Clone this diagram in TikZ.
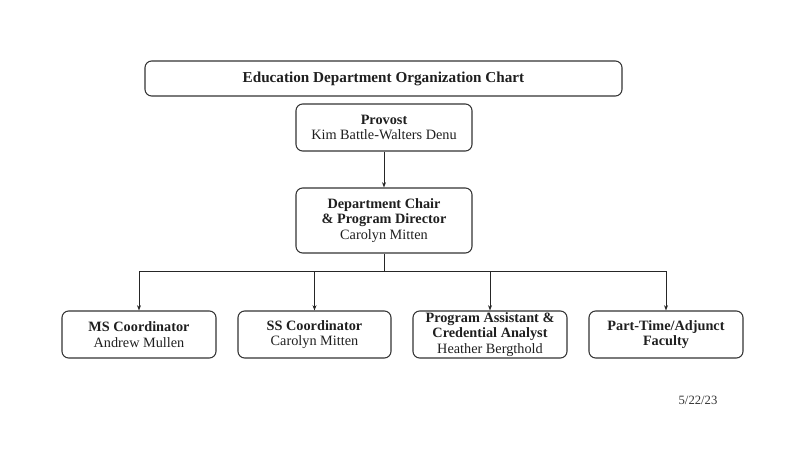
\documentclass[tikz,border=0pt]{standalone}
\usepackage{fontspec}
\setmainfont{Liberation Serif}
\usetikzlibrary{arrows.meta}
\begin{document}
\begin{tikzpicture}[x=0.75pt,y=-0.75pt,
  box/.style={draw=black!80, line width=0.8pt, rounded corners=5pt, align=center, inner sep=0pt, text=black!88, font=\fontsize{10.7}{11.8}\selectfont},
  conn/.style={draw=black!85, line width=0.6pt},
  arr/.style={conn, -{Stealth[length=4pt,width=3pt]}}]
\useasboundingbox (0,0) rectangle (800,467);
\node[box, minimum width=477*0.75pt, minimum height=35*0.75pt, font=\fontsize{11.4}{12}\selectfont\bfseries] (title) at (383.5,78.5) {Education Department Organization Chart};
\node[box, minimum width=176*0.75pt, minimum height=47*0.75pt] (prov) at (384,127.5) {\textbf{Provost}\\Kim Battle-Walters Denu};
\node[box, minimum width=176*0.75pt, minimum height=65*0.75pt] (chair) at (384,220.5) {\textbf{Department Chair}\\\textbf{\& Program Director}\\Carolyn Mitten};
\node[box, minimum width=154*0.75pt, minimum height=47*0.75pt] (ms) at (139,334.5) {\textbf{MS Coordinator}\\Andrew Mullen};
\node[box, minimum width=153*0.75pt, minimum height=47*0.75pt] (ss) at (314.5,334.5) {\textbf{SS Coordinator}\\Carolyn Mitten};
\node[box, minimum width=154*0.75pt, minimum height=47*0.75pt] (pa) at (490,334.5) {\textbf{Program Assistant \&}\\\textbf{Credential Analyst}\\Heather Bergthold};
\node[box, minimum width=154*0.75pt, minimum height=47*0.75pt] (pt) at (666,334.5) {\textbf{Part-Time/Adjunct}\\\textbf{Faculty}};
\node[font=\fontsize{9.5}{10}\selectfont, text=black!80] (date) at (698,400) {5/22/23};
\coordinate (bus) at (384,271);
\draw[arr] (prov.south) -- (chair.north);
\draw[conn] (chair.south) -- (bus);
\draw[conn] (bus) -| (ms.north |- 0,271);
\draw[conn] (bus) -| (pt.north |- 0,271);
\draw[arr] (ms.north |- bus) -- (ms.north);
\draw[arr] (ss.north |- bus) -- (ss.north);
\draw[arr] (pa.north |- bus) -- (pa.north);
\draw[arr] (pt.north |- bus) -- (pt.north);
\end{tikzpicture}
\end{document}
